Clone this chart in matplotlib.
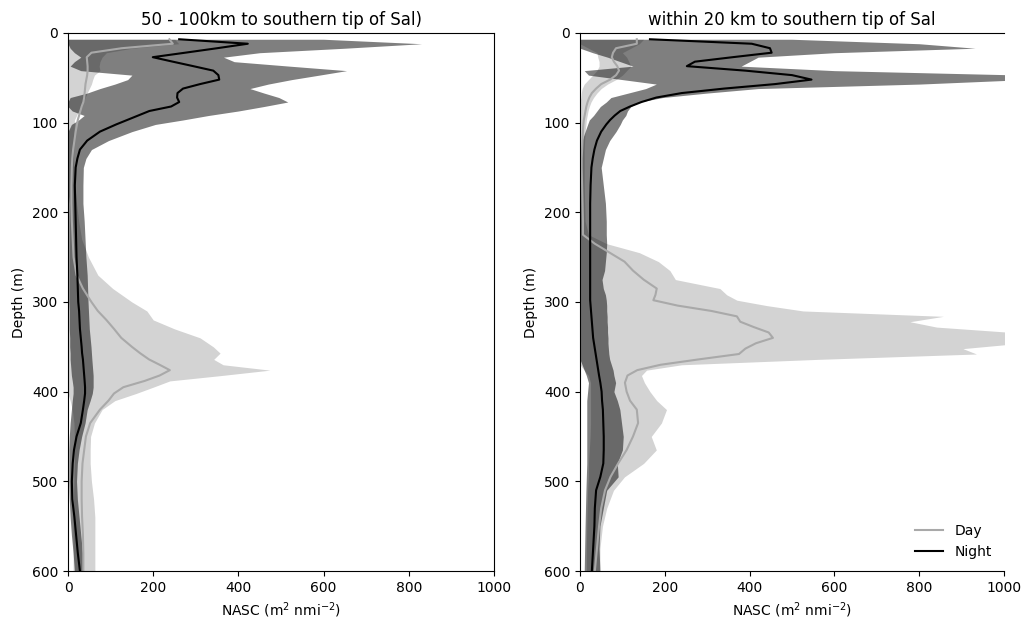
#!/usr/bin/env python3
"""
Day/night NASC depth profiles off the southern tip of Sal.
"""

import matplotlib
matplotlib.use('Agg')
import matplotlib.pyplot as plt
import numpy as np

# ---- panel A: 50 - 100 km ----
depth_a = [7, 12, 17, 22, 27, 32, 37, 42, 47, 52, 57, 62, 67, 72, 77, 82, 87, 92, 97, 102,
           110, 120, 130, 140, 150, 170, 190, 210, 230, 250, 270, 285, 300, 310, 320, 330,
           340, 350, 357, 364, 370, 376, 382, 388, 395, 402, 410, 420, 435, 450, 465, 480,
           500, 520, 540, 560, 580, 600]

night_a = [261, 422, 350, 275, 199, 246, 294, 341, 353, 355, 310, 270, 257, 256, 261, 242, 191, 165, 139, 113,
           75, 45, 28, 22, 18, 16, 17, 18, 19, 20, 22, 23, 24, 26, 27, 28,
           30, 32, 33, 35, 36, 37, 38, 39, 40, 40, 38, 35, 30, 20, 14, 11,
           9, 10, 15, 19, 23, 28]
night_a_lo = [0, 0, 5, 15, 30, 15, 5, 30, 150, 140, 110, 75, 45, 5, 0, 0, 10, 38, 25, 8,
              0, 0, 0, 0, 0, 0, 2, 2, 2, 2, 2, 2, 2, 3, 3, 3,
              4, 4, 5, 5, 6, 7, 8, 10, 12, 12, 10, 8, 5, 3, 2, 2,
              2, 3, 5, 8, 12, 15]
night_a_hi = [600, 830, 650, 450, 365, 390, 520, 654, 590, 525, 470, 427, 460, 495, 516, 460, 400, 330, 270, 205,
              150, 95, 55, 42, 36, 35, 35, 38, 40, 42, 45, 46, 47, 48, 49, 50,
              52, 54, 55, 56, 57, 58, 59, 59, 59, 57, 52, 45, 40, 32, 26, 22,
              20, 22, 26, 30, 34, 36]

day_a = [238, 246, 126, 55, 44, 45, 46, 46, 45, 43, 41, 40, 39, 38, 36, 32, 29, 26, 23, 21,
         18, 15, 12, 10, 9, 8, 8, 9, 11, 13, 20, 35, 55, 70, 90, 108,
         125, 150, 169, 190, 215, 239, 215, 180, 130, 108, 95, 75, 52, 42, 38, 34,
         32, 32, 33, 35, 36, 36]
day_a_lo = [0, 0, 0, 0, 0, 0, 0, 0, 0, 0, 0, 0, 0, 0, 0, 0, 0, 0, 0, 0,
            0, 0, 0, 0, 0, 0, 0, 0, 0, 0, 0, 0, 0, 0, 0, 0,
            0, 0, 0, 0, 0, 0, 0, 0, 0, 0, 5, 10, 14, 15, 15, 15,
            14, 13, 12, 12, 12, 12]
day_a_hi = [250, 260, 150, 90, 80, 75, 73, 75, 62, 58, 55, 50, 45, 40, 35, 30, 25, 20, 15, 15,
            14, 13, 13, 13, 14, 16, 20, 25, 32, 48, 70, 105, 150, 185, 200, 250,
            310, 341, 357, 342, 364, 474, 360, 239, 200, 160, 110, 80, 62, 53, 52, 52,
            55, 60, 63, 63, 63, 63]

# ---- panel B: within 20 km ----
depth_b = [7, 12, 17, 22, 27, 32, 37, 42, 47, 52, 57, 62, 67, 72, 77, 82, 87, 92, 97, 102,
           110, 120, 130, 140, 150, 170, 190, 210, 225, 235, 245, 255, 265, 275, 285, 292,
           298, 304, 310, 316, 322, 328, 334, 340, 346, 352, 358, 364, 370, 376, 382, 390,
           400, 410, 420, 435, 450, 465, 480, 495, 510, 530, 550, 575, 600]

night_b = [165, 405, 448, 452, 360, 271, 252, 390, 500, 546, 460, 340, 240, 180, 145, 118, 95, 82, 71, 62,
           50, 40, 34, 30, 27, 25, 24, 24, 24, 24, 24, 24, 24, 24, 24, 24,
           24, 25, 26, 27, 28, 29, 30, 31, 33, 35, 37, 39, 41, 43, 45, 48,
           51, 52, 54, 55, 56, 56, 55, 48, 38, 35, 34, 31, 28]
night_b_lo = [0, 0, 0, 30, 65, 95, 125, 10, 20, 100, 180, 155, 114, 73, 62, 48, 40, 32, 22, 18,
              12, 5, 3, 0, 0, 0, 0, 0, 0, 0, 0, 0, 0, 0, 0, 0,
              0, 0, 0, 0, 0, 0, 0, 0, 0, 0, 0, 0, 5, 10, 15, 20,
              18, 16, 16, 16, 16, 16, 16, 15, 14, 13, 12, 11, 10]
night_b_hi = [500, 800, 932, 600, 420, 400, 380, 600, 1050, 1050, 800, 420, 300, 195, 140, 120, 112, 108, 100, 95,
              85, 70, 60, 55, 50, 55, 60, 62, 62, 63, 62, 60, 58, 52, 55, 60,
              62, 63, 63, 64, 64, 65, 65, 66, 66, 67, 68, 70, 74, 78, 80, 84,
              80, 88, 94, 98, 102, 100, 88, 90, 63, 55, 47, 45, 47]

day_b = [134, 134, 85, 78, 75, 80, 88, 92, 85, 71, 50, 38, 28, 22, 18, 15, 13, 11, 9, 8,
         7, 6, 5, 4, 4, 5, 6, 7, 7, 35, 70, 105, 125, 150, 181, 178,
         173, 230, 310, 370, 378, 410, 445, 455, 415, 390, 375, 280, 190, 135, 112, 106,
         110, 118, 134, 137, 125, 110, 90, 72, 59, 50, 45, 40, 35]
day_b_lo = [0, 0, 20, 40, 42, 45, 45, 40, 30, 20, 10, 5, 3, 2, 0, 0, 0, 0, 0, 0,
            0, 0, 0, 0, 0, 0, 0, 0, 0, 0, 0, 0, 0, 0, 0, 0,
            0, 0, 0, 0, 0, 0, 0, 0, 0, 0, 0, 0, 0, 10, 20, 25,
            25, 25, 25, 25, 24, 22, 20, 20, 18, 17, 16, 15, 15]
day_b_hi = [150, 140, 120, 100, 110, 115, 120, 110, 100, 85, 65, 50, 40, 32, 26, 22, 19, 17, 15, 14,
            12, 11, 10, 10, 10, 10, 11, 12, 20, 63, 140, 185, 212, 225, 330, 346,
            370, 440, 526, 857, 778, 841, 1020, 1060, 1040, 903, 935, 560, 240, 157, 145, 152,
            165, 181, 204, 192, 168, 180, 150, 105, 79, 63, 53, 47, 47]

panels = [
    ('50 - 100km to southern tip of Sal)', depth_a, day_a, day_a_lo, day_a_hi, night_a, night_a_lo, night_a_hi),
    ('within 20 km to southern tip of Sal', depth_b, day_b, day_b_lo, day_b_hi, night_b, night_b_lo, night_b_hi),
]

fig = plt.figure(figsize=(10.32, 6.21), dpi=100)
ax_pos = [[0.0659, 0.0805, 0.4128, 0.8664], [0.562, 0.0805, 0.4109, 0.8664]]

for i, (title, depth, day, day_lo, day_hi, night, night_lo, night_hi) in enumerate(panels):
    ax = fig.add_axes(ax_pos[i])
    ax.fill_betweenx(depth, day_lo, day_hi, color='lightgray', linewidth=0)
    ax.fill_betweenx(depth, night_lo, night_hi, color='k', alpha=0.5, linewidth=0)
    ax.plot(day, depth, color='darkgray', lw=1.5, label='Day')
    ax.plot(night, depth, color='k', lw=1.5, label='Night')

    ax.set_xlim(0, 1000)
    ax.set_ylim(600, 0)
    ax.set_xticks(np.arange(0, 1001, 200))
    ax.set_yticks(np.arange(0, 601, 100))
    ax.set_xlabel('NASC (m$^2$ nmi$^{-2}$)')
    ax.set_ylabel('Depth (m)')
    ax.set_title(title)
    if i == 1:
        ax.spines['right'].set_visible(False)
        ax.legend(loc='lower right', frameon=False)

plt.savefig('out.png', dpi=100)
plt.close()
